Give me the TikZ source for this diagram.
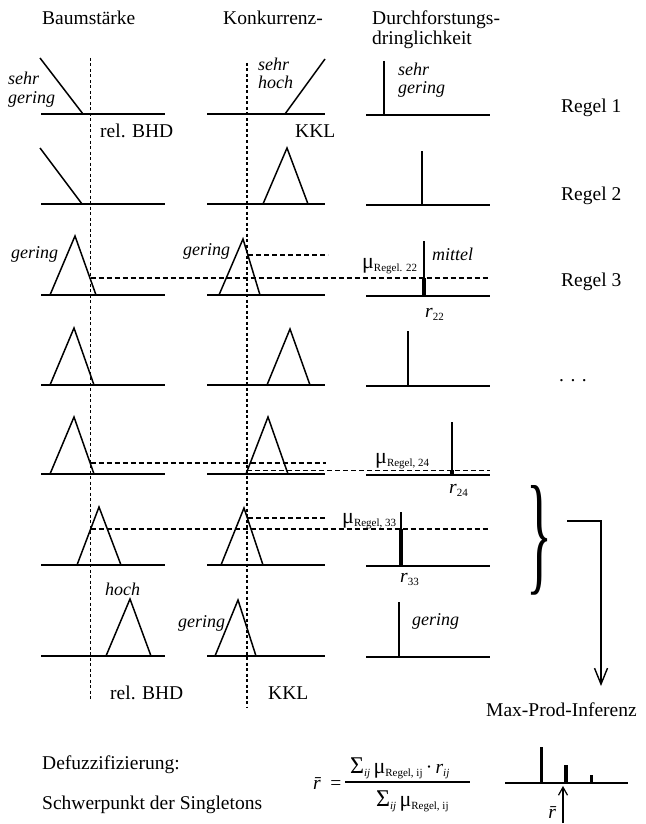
\documentclass[tikz,border=0pt]{standalone}
\usepackage{graphicx}
\usepackage{fontspec}
\setmainfont{Liberation Serif}
\usetikzlibrary{arrows.meta}
\newcommand\subtxt[1]{\raisebox{-0.35ex}{\fontsize{11}{11}\selectfont #1}}
\newcommand\mymu{{\fontsize{22}{22}\selectfont μ}}
\begin{document}
\begin{tikzpicture}[x=1pt,y=-1pt,
  axis/.style={line width=1.9pt},
  mf/.style={line width=1.5pt, line join=miter},
  guide/.style={line width=1.7pt, dash pattern=on 3pt off 2.5pt},
  cut/.style={line width=1.6pt, dash pattern=on 5pt off 3pt},
  spike/.style={line width=1.7pt},
  bar/.style={line width=4pt},
  lbl/.style={font=\fontsize{19.5}{22}\selectfont, inner sep=0pt, anchor=base west},
  ital/.style={font=\fontsize{18}{19}\selectfont\itshape, inner sep=0pt, anchor=base west},
  mulbl/.style={font=\fontsize{19.5}{22}\selectfont, inner sep=0pt, anchor=base west},
  ]
\useasboundingbox (0,0) rectangle (645,824);
\fill[white] (0,0) rectangle (645,824);

% headers
\node[lbl] (h1) at (42,25) {Baumstärke};
\node[lbl] (h2) at (223,25) {Konkurrenz-};
\node[lbl] (h3) at (372,25) {Durchforstungs-};
\node[lbl] (h3b) at (372,45) {dringlichkeit};

% dotted guide lines
\draw[guide] (90.5,58) -- (90.5,700);
\draw[guide] (247,63) -- (247,708);

% axes
\foreach \y in {114,204,295,385,474,565,656}{
  \draw[axis] (41,\y) -- (165,\y);
  \draw[axis] (207,\y) -- (325,\y);
  \draw[axis] (366,\y+1) -- (490,\y+1);
}

% Row 1
\draw[mf] (40,58) -- (83,114);
\draw[mf] (285,114) -- (325,59);
\draw[spike] (384,61) -- (384,115);
\node[ital] (s1a) at (8,85) {sehr};
\node[ital] (s1b) at (8,103) {gering};
\node[ital] (s2a) at (258,71) {sehr};
\node[ital] (s2b) at (258,89) {hoch};
\node[ital] (s3a) at (398,76) {sehr};
\node[ital] (s3b) at (398,94) {gering};
\node[lbl] (bhd1) at (100,137) {rel. BHD};
\node[lbl] (kkl1) at (295,138) {KKL};
\node[lbl] (r1) at (561,113) {Regel 1};

% Row 2
\draw[mf] (40,148) -- (82,204);
\draw[mf] (263,204) -- (287,148) -- (308,204);
\draw[spike] (422,151) -- (422,205);
\node[lbl] (r2) at (561,200) {Regel 2};

% Row 3
\draw[mf] (50,295) -- (75,236) -- (96,295);
\draw[mf] (219,295) -- (243,239) -- (260,295);
\draw[cut] (90.5,278) -- (490,278);
\draw[cut] (248,255) -- (328,255);
\draw[spike] (424,241) -- (424,296);
\draw[bar] (424,278) -- (424,296);
\node[ital] (g3a) at (11,258) {gering};
\node[ital] (g3b) at (183,255) {gering};
\node[ital] (m3) at (432,260) {mittel};
\node[mulbl] (mu22) at (362,268) {\mymu\subtxt{Regel. 22}};
\node[mulbl] (r22) at (425,317) {\textit{r}\subtxt{22}};
\node[lbl] (r3) at (561,286) {Regel 3};

% Row 4
\draw[mf] (50,385) -- (74,328) -- (94,385);
\draw[mf] (267,385) -- (290,329) -- (310,385);
\draw[spike] (408,331) -- (408,386);
\node[lbl] (dots) at (559,381) {. . .};

% Row 5
\draw[mf] (50,474) -- (74,417) -- (94,474);
\draw[mf] (246,474) -- (268,417) -- (288,474);
\draw[cut] (90.5,463) -- (326,463);
\draw[cut] (247,470.5) -- (490,470.5);
\draw[spike] (452,422) -- (452,475);
\draw[bar] (452,470) -- (452,475);
\node[mulbl] (mu24) at (375,463) {\mymu\subtxt{Regel, 24}};
\node[mulbl] (r24) at (449,493) {\textit{r}\subtxt{24}};

% Row 6
\draw[mf] (77,565) -- (99,507) -- (121,565);
\draw[mf] (221,565) -- (244,508) -- (263,565);
\draw[cut] (90.5,529) -- (490,529);
\draw[cut] (248,518) -- (326,518);
\draw[spike] (401,512) -- (401,566);
\draw[bar] (401,529) -- (401,566);
\node[mulbl] (mu33) at (342,523) {\mymu\subtxt{Regel, 33}};
\node[mulbl] (r33) at (400,582) {\textit{r}\subtxt{33}};

% brace and arrow
\node[inner sep=0pt] (brace) at (539.5,540.5) {\resizebox{26pt}{92pt}{\}}};
\coordinate (a0) at (567,521);
\coordinate (a1) at (601,686);
\draw[line width=1.4pt, -{Straight Barb[length=16pt,width=13pt]}] (a0) -| (a1);
\node[lbl] (mpi) at (486,716) {Max-Prod-Inferenz};

% Row 7
\draw[mf] (106,656) -- (130,599) -- (151,656);
\draw[mf] (215,656) -- (238,600) -- (256,656);
\draw[spike] (399,602) -- (399,657);
\node[ital] (h7) at (105,595) {hoch};
\node[ital] (g7a) at (178,627) {gering};
\node[ital] (g7b) at (412,625) {gering};
\node[lbl] (bhd2) at (110,699) {rel. BHD};
\node[lbl] (kkl2) at (268,699) {KKL};

% Defuzzification
\node[lbl] (def) at (42,769) {Defuzzifizierung:};
\node[lbl] (swp) at (42,809) {Schwerpunkt der Singletons};
\node[lbl] (rbar) at (313,789) {\textit{\=r} =};
\node[lbl] (num) at (350,773) {{\fontsize{24}{24}\selectfont Σ}\subtxt{\itshape ij}\,\mymu\subtxt{Regel, ij}\,·\,\textit{r}\subtxt{\itshape ij}};
\node[lbl] (den) at (376,806) {{\fontsize{24}{24}\selectfont Σ}\subtxt{\itshape ij}\,\mymu\subtxt{Regel, ij}};
\draw[line width=1.2pt] (345,782) -- (470,782);

% singleton result plot
\draw[axis] (505,783) -- (628,783);
\draw[line width=3pt] (541,747) -- (541,783);
\draw[line width=3.5pt] (566,765) -- (566,783);
\draw[line width=3pt] (591,775) -- (591,783);
\coordinate (u0) at (563,823);
\coordinate (u1) at (563,786);
\draw[line width=1.2pt, -{Straight Barb[length=8pt,width=9pt]}] (u0) -- (u1);
\node[lbl, anchor=base east] (rbar2) at (561,818) {\textit{\=r}};
\end{tikzpicture}
\end{document}
